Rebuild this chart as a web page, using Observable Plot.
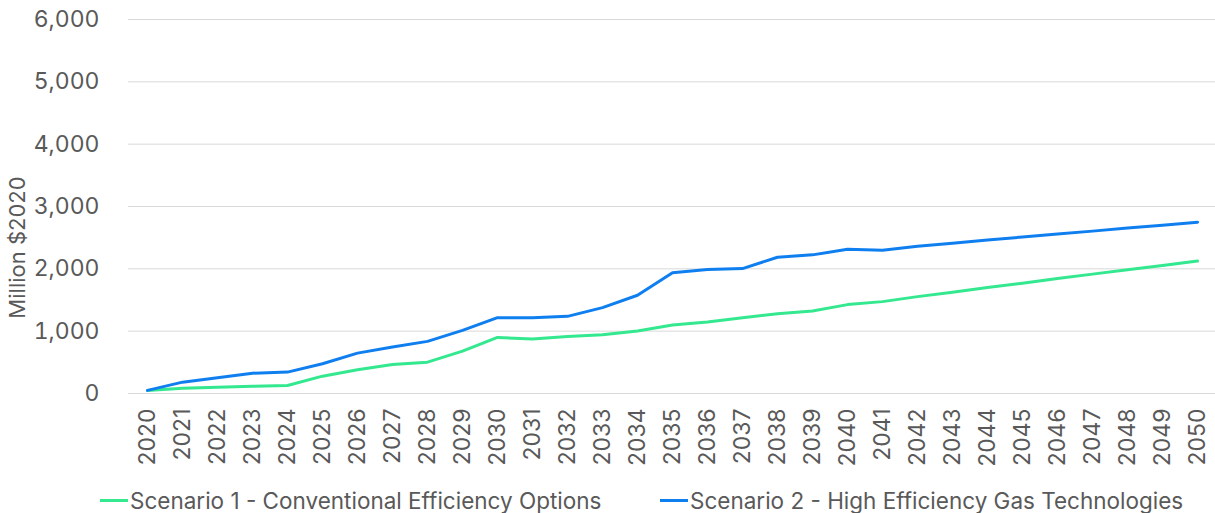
<!DOCTYPE html>
<html>
<head>
<meta charset="utf-8">
<script src="https://cdn.jsdelivr.net/npm/d3@7"></script>
<script src="https://cdn.jsdelivr.net/npm/@observablehq/plot@0.6"></script>
<style>
  html, body { margin: 0; padding: 0; background: #fff; }
  body { width: 1215px; height: 513px; overflow: hidden; font-family: Inter, "Open Sans", sans-serif; }
  #legend { position: absolute; left: 0; top: 485px; width: 1215px; height: 30px; font-size: 22.5px; color: #595959; }
  .item { position: absolute; top: 0; height: 30px; display: flex; align-items: center; white-space: nowrap; }
  .sw { width: 28px; height: 3px; margin-right: 2px; }
</style>
</head>
<body>
<div id="chart"></div>
<div id="legend"></div>
<script>
const years = ["2020","2021","2022","2023","2024","2025","2026","2027","2028","2029","2030","2031","2032","2033","2034","2035","2036","2037","2038","2039","2040","2041","2042","2043","2044","2045","2046","2047","2048","2049","2050"];
const scenario1 = [50, 85, 101, 117, 129, 278, 380, 466, 503, 680, 900, 873, 916, 943, 1002, 1100, 1147, 1217, 1281, 1323, 1426, 1474, 1554, 1625, 1700, 1770, 1845, 1915, 1985, 2055, 2125];
const scenario2 = [50, 182, 252, 326, 343, 477, 648, 745, 836, 1013, 1217, 1217, 1238, 1378, 1576, 1937, 1988, 2004, 2186, 2224, 2315, 2299, 2363, 2410, 2462, 2510, 2558, 2605, 2655, 2700, 2749];
const seriesNames = ["Scenario 1 - Conventional Efficiency Options", "Scenario 2 - High Efficiency Gas Technologies"];
const seriesColors = ["#33e88f", "#0f7ff0"];
const yTicks = [0, 1000, 2000, 3000, 4000, 5000, 6000];

const rows = [];
years.forEach((yr, i) => {
  rows.push({year: yr, value: scenario1[i], series: seriesNames[0]});
  rows.push({year: yr, value: scenario2[i], series: seriesNames[1]});
});

const chart = Plot.plot({
  width: 1215,
  height: 484,
  marginTop: 19,
  marginBottom: 91,
  marginLeft: 128,
  marginRight: 0,
  style: {fontFamily: "Inter, 'Open Sans', sans-serif", fontSize: "23px", color: "#595959", background: "#fff"},
  x: {type: "point", domain: years, padding: 0.5, label: null},
  y: {domain: [0, 6000], label: null},
  color: {domain: seriesNames, range: seriesColors},
  marks: [
    Plot.gridY(yTicks, {stroke: "#d9d9d9", strokeOpacity: 1, strokeWidth: 1}),
    Plot.axisY(yTicks, {tickSize: 0, tickPadding: 29, tickFormat: d3.format(","), fill: "#595959", fontSize: 23, label: null}),
    Plot.axisX({tickSize: 0, tickPadding: 15, tickRotate: -90, fill: "#595959", fontSize: 23, label: null}),
    Plot.lineY(rows, {x: "year", y: "value", z: "series", stroke: "series", strokeWidth: 3}),
    Plot.text(["Million $2020"], {frameAnchor: "left", dx: -111, dy: 41, rotate: -90, fill: "#595959", fontSize: 22, textAnchor: "middle"})
  ]
});
document.getElementById("chart").appendChild(chart);

const legend = document.getElementById("legend");
const lefts = [100, 660];
seriesNames.forEach((name, i) => {
  const it = document.createElement("div");
  it.className = "item";
  it.style.left = lefts[i] + "px";
  const sw = document.createElement("span");
  sw.className = "sw";
  sw.style.background = seriesColors[i];
  const tx = document.createElement("span");
  tx.textContent = name;
  it.appendChild(sw); it.appendChild(tx);
  legend.appendChild(it);
});
</script>
</body>
</html>
